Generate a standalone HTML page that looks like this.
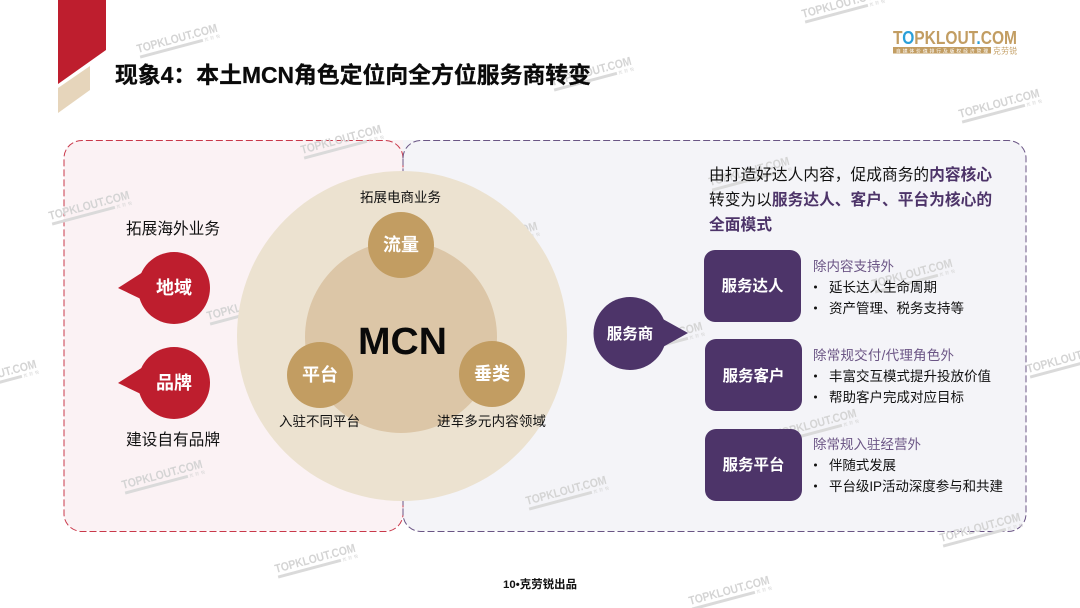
<!DOCTYPE html>
<html lang="zh-CN"><head><meta charset="utf-8"><title>现象4</title>
<style>
html,body{margin:0;padding:0;background:#fff;width:1080px;height:608px;overflow:hidden}
svg{display:block}
text{font-family:"Liberation Sans","Noto Sans CJK SC",sans-serif}
.b{font-weight:700}
.w{fill:#fff;font-weight:700;text-anchor:middle;font-size:18px}
.s{font-size:15.5px}
.t{fill:#111;font-size:13.5px}
.h{fill:#6b5585;font-size:13.5px}
.wm text{font-weight:700;fill:#d4d4d4;font-size:12px}
.wm rect{fill:#dadada}
</style></head><body>
<svg width="1080" height="608" viewBox="0 0 1080 608" xmlns="http://www.w3.org/2000/svg">
<defs>
<g id="m" class="wm"><text x="0" y="0" textLength="83" lengthAdjust="spacingAndGlyphs">TOPKLOUT.COM</text><rect x="1" y="3" width="65" height="3"/><text x="67.500" y="6" textLength="16" style="font-size:4px;font-weight:400">克劳锐</text></g>
</defs>
<rect width="1080" height="608" fill="#fff"/>
<polygon points="58,0 106,0 106,50 58,84" fill="#be1e2e"/>
<polygon points="58,88 90,66 90,90 58,113" fill="#e6d5bb"/>

<path d="M82,140H403V513a18,18 0 0 1 -18,18H82a18,18 0 0 1 -18,-18V158a18,18 0 0 1 18,-18Z" fill="#fbf2f4"/>
<path d="M403,140H1008a18,18 0 0 1 18,18V513a18,18 0 0 1 -18,18H421a18,18 0 0 1 -18,-18Z" fill="#f4f4f8"/>
<path d="M403,158a18,17.500 0 0 0 -18,-17.500H82a18,17.500 0 0 0 -18,17.500V514a18,17.500 0 0 0 18,17.500H385a18,17.500 0 0 0 18,-17.500Z" fill="none" stroke="#c9384a" stroke-width="1" stroke-dasharray="7 3"/>
<path d="M403,158a18,17.500 0 0 1 18,-17.500H1008a18,17.500 0 0 1 18,17.500V514a18,17.500 0 0 1 -18,17.500H421a18,17.500 0 0 1 -18,-17.500Z" fill="none" stroke="#6a5585" stroke-width="1" stroke-dasharray="7 3"/>

<use href="#m" transform="translate(138,53) rotate(-15)"/>
<use href="#m" transform="translate(803,18) rotate(-15)"/>
<use href="#m" transform="translate(960,118) rotate(-15)"/>
<use href="#m" transform="translate(552,86) rotate(-15)"/>
<use href="#m" transform="translate(302,154) rotate(-15)"/>
<use href="#m" transform="translate(50,220) rotate(-15)"/>
<use href="#m" transform="translate(208,320) rotate(-15)"/>
<use href="#m" transform="translate(-43,389) rotate(-15)"/>
<use href="#m" transform="translate(123,489) rotate(-15)"/>
<use href="#m" transform="translate(527,505) rotate(-15)"/>
<use href="#m" transform="translate(276,573) rotate(-15)"/>
<use href="#m" transform="translate(690,605) rotate(-15)"/>
<use href="#m" transform="translate(941,542) rotate(-15)"/>
<use href="#m" transform="translate(1028,373) rotate(-15)"/>
<use href="#m" transform="translate(777,438) rotate(-15)"/>
<use href="#m" transform="translate(873,288) rotate(-15)"/>
<use href="#m" transform="translate(710,186) rotate(-15)"/>
<use href="#m" transform="translate(623,351) rotate(-15)"/>
<use href="#m" transform="translate(458,251) rotate(-15)"/>

<text x="115" y="83" class="b" font-size="22.850" fill="#0a0a0a" stroke="#0a0a0a" stroke-width="0.300" textLength="476" lengthAdjust="spacing">现象4：本土MCN角色定位向全方位服务商转变</text>

<!-- logo -->
<text x="893" y="44" class="b" font-size="18" fill="#c29d62" textLength="124" lengthAdjust="spacingAndGlyphs">T<tspan fill="#2a9fd8">O</tspan>PKLOUT<tspan fill="#2a9fd8">.</tspan>COM</text>
<rect x="893" y="47" width="98" height="6.500" fill="#c29d62"/>
<text x="896" y="52.300" font-size="4.800" fill="#fff" textLength="92">自媒体价值排行及版权经济管理</text>
<text x="993" y="53.500" font-size="7.800" fill="#c29d62" textLength="24">克劳锐</text>

<!-- left -->
<text x="126" y="234" font-size="15.700" fill="#111" textLength="94">拓展海外业务</text>
<text x="126" y="445" font-size="15.700" fill="#111" textLength="94">建设自有品牌</text>
<circle cx="174" cy="288" r="36" fill="#be1e2e"/>
<polygon points="118,288 143,272 143,300" fill="#be1e2e"/>
<text x="174" y="294" class="w">地域</text>
<circle cx="174" cy="383" r="36" fill="#be1e2e"/>
<polygon points="118,383 143,367 143,395" fill="#be1e2e"/>
<text x="174" y="389" class="w">品牌</text>

<!-- centre -->
<circle cx="402" cy="336" r="165" fill="#ece2d0"/>
<circle cx="401" cy="337" r="96" fill="#dcc6a7"/>
<circle cx="401" cy="245" r="33" fill="#c29d62"/>
<circle cx="320" cy="375" r="33" fill="#c29d62"/>
<circle cx="492" cy="374" r="33" fill="#c29d62"/>
<text x="401" y="251" class="w">流量</text>
<text x="320" y="381" class="w">平台</text>
<text x="492" y="380" class="w">垂类</text>
<text x="358" y="354" class="b" font-size="38" fill="#0a0a0a" textLength="89" lengthAdjust="spacingAndGlyphs">MCN</text>
<text x="360" y="202" class="t" textLength="81">拓展电商业务</text>
<text x="279" y="426" class="t" textLength="81">入驻不同平台</text>
<text x="437" y="426" class="t" textLength="109">进军多元内容领域</text>

<!-- service -->
<circle cx="630" cy="333.500" r="36.500" fill="#4d3469"/>
<polygon points="688,333 661,318 661,348" fill="#4d3469"/>
<text x="630" y="339" class="w s">服务商</text>

<g font-size="15.700" fill="#111">
<text x="709" y="180" textLength="283" lengthAdjust="spacing">由打造好达人内容，促成商务的<tspan class="b" fill="#4d3469">内容核心</tspan></text>
<text x="709" y="205" textLength="283" lengthAdjust="spacing">转变为以<tspan class="b" fill="#4d3469">服务达人、客户、平台为核心的</tspan></text>
<text x="709" y="230" class="b" fill="#4d3469" textLength="63" lengthAdjust="spacing">全面模式</text>
</g>

<rect x="704" y="250" width="97" height="72" rx="11" fill="#4d3469"/>
<rect x="705" y="339" width="97" height="72" rx="11" fill="#4d3469"/>
<rect x="705" y="429" width="97" height="72" rx="11" fill="#4d3469"/>
<text x="752.500" y="291" class="w s">服务达人</text>
<text x="753.500" y="381" class="w s">服务客户</text>
<text x="753.500" y="470" class="w s">服务平台</text>

<text x="813" y="271" class="h" textLength="81">除内容支持外</text>
<circle cx="815.500" cy="287" r="1.500" fill="#111"/><text x="829" y="292" class="t" textLength="108">延长达人生命周期</text>
<circle cx="815.500" cy="308" r="1.500" fill="#111"/><text x="829" y="313" class="t" textLength="135">资产管理、税务支持等</text>

<text x="813" y="360" class="h" textLength="141">除常规交付/代理角色外</text>
<circle cx="815.500" cy="376" r="1.500" fill="#111"/><text x="829" y="381" class="t" textLength="162">丰富交互模式提升投放价值</text>
<circle cx="815.500" cy="397" r="1.500" fill="#111"/><text x="829" y="402" class="t" textLength="135">帮助客户完成对应目标</text>

<text x="813" y="449" class="h" textLength="108">除常规入驻经营外</text>
<circle cx="815.500" cy="465" r="1.500" fill="#111"/><text x="829" y="470" class="t" textLength="67">伴随式发展</text>
<circle cx="815.500" cy="486" r="1.500" fill="#111"/><text x="829" y="491" class="t" textLength="174">平台级IP活动深度参与和共建</text>

<text x="503" y="588" class="b" fill="#111" textLength="74" style="font-size:11.400px">10•克劳锐出品</text>
</svg>
</body></html>
